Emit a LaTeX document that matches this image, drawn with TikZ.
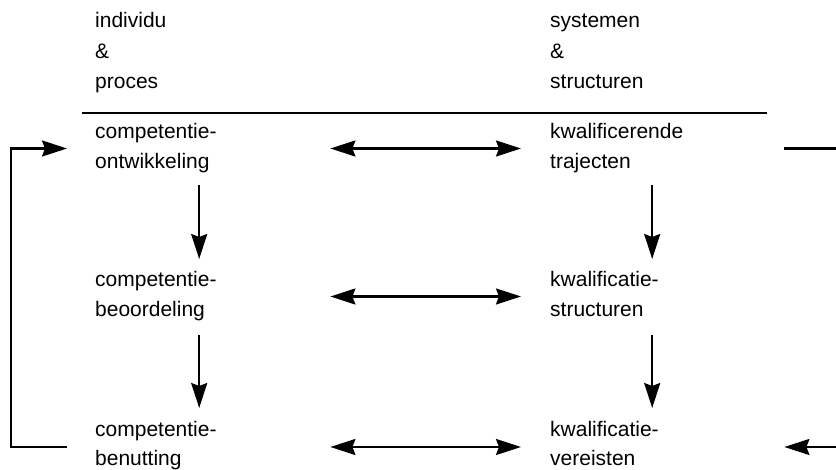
\documentclass[tikz,border=0pt]{standalone}
\usepackage{fontspec}
\setmainfont{Liberation Sans}
\usetikzlibrary{arrows.meta}
\begin{document}
\begin{tikzpicture}[x=1pt,y=-1pt,
  label/.style={anchor=base west,inner sep=0pt,align=left,text width=206pt,
    font=\fontsize{21}{29.5}\selectfont},
  head/.style={label,font=\fontsize{21}{30.5}\selectfont},
  conn/.style={line width=2.1pt},
  arr/.style={conn,-{Stealth[length=25pt,width=16pt,inset=3pt]}},
  darr/.style={conn,{Stealth[length=25pt,width=16pt,inset=3pt]}-{Stealth[length=25pt,width=16pt,inset=3pt]}}]
\useasboundingbox (0,0) rectangle (836,470);

% column headings and rule
\node[head] (hL) at (95,28) {individu\\\&\\proces};
\node[head] (hR) at (550,28) {systemen\\\&\\structuren};
\draw[line width=2.8pt] (82,113) -- (767,113);

% left column: individual and process
\node[label] (c1) at (95,139) {competentie-\\ontwikkeling};
\node[label] (c2) at (95,287) {competentie-\\beoordeling};
\node[label] (c3) at (95,436) {competentie-\\benutting};

% right column: systems and structures
\node[label] (k1) at (550,139) {kwalificerende\\trajecten};
\node[label] (k2) at (550,287) {kwalificatie-\\structuren};
\node[label] (k3) at (550,436) {kwalificatie-\\vereisten};

% vertical flow (first baseline of each block as reference)
\draw[arr] ([xshift=1pt,yshift=-46pt]c1.base) -- ([xshift=1pt,yshift=28pt]c2.base);
\draw[arr] ([xshift=1pt,yshift=-48pt]c2.base) -- ([xshift=1pt,yshift=28pt]c3.base);
\draw[arr] ([xshift=-1pt,yshift=-46pt]k1.base) -- ([xshift=-1pt,yshift=28pt]k2.base);
\draw[arr] ([xshift=-1pt,yshift=-48pt]k2.base) -- ([xshift=-1pt,yshift=28pt]k3.base);

% two-way links between the columns
\draw[darr] ([xshift=29pt,yshift=-9.5pt]c1.base east) -- ([xshift=-29pt,yshift=-9.5pt]k1.base west);
\draw[darr] ([xshift=29pt,yshift=-9.5pt]c2.base east) -- ([xshift=-29pt,yshift=-9.5pt]k2.base west);
\draw[darr] ([xshift=29pt,yshift=-11pt]c3.base east) -- ([xshift=-29pt,yshift=-11pt]k3.base west);

% feedback loops
\coordinate (loopL) at (11,0);
\coordinate (edgeR) at (836,0);
\draw[arr] ([xshift=-28pt,yshift=-11pt]c3.base west) -- ([yshift=-11pt]loopL |- c3.base west)
  -- ([yshift=-9.5pt]loopL |- c1.base west) -- ([xshift=-28pt,yshift=-9.5pt]c1.base west);
\draw[conn] ([xshift=28pt,yshift=-9.5pt]k1.base east) -- ([yshift=-9.5pt]edgeR |- k1.base east);
\draw[arr] ([yshift=-11pt]edgeR |- k3.base east) -- ([xshift=28pt,yshift=-11pt]k3.base east);
\end{tikzpicture}
\end{document}
